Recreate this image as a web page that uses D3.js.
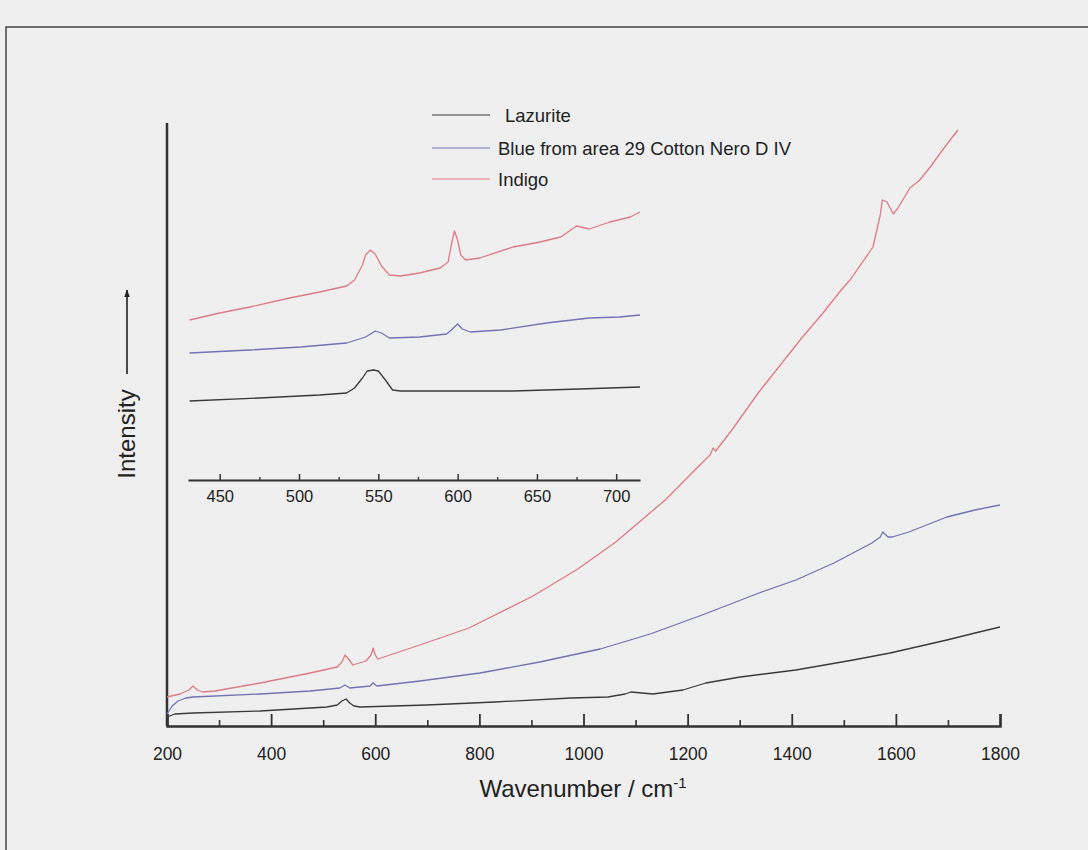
<!DOCTYPE html>
<html>
<head>
<meta charset="utf-8">
<script src="https://cdn.jsdelivr.net/npm/d3@7/dist/d3.min.js"></script>
<style>
  html, body { margin: 0; padding: 0; background: #efefef; }
  svg { display: block; }
  text { font-family: "Liberation Sans", Arial, sans-serif; fill: #222; }
</style>
</head>
<body>
<svg id="chart" width="1088" height="850"></svg>
<script>
// ---------------- DATA ----------------
// Main spectra: [wavenumber (cm-1), intensity (a.u.)]
const seriesNames = ["Lazurite", "Blue from area 29 Cotton Nero D IV", "Indigo"];
const seriesColors = ["#3a3a3a", "#7272b4", "#df7a86"];

const lazuriteMain = [
  [200,9],[215,12],[250,13],[379,15],[507,19],[527,21],[536,25],[544,27],[551,23],
  [559,20],[571,19],[699,21],[830,24],[976,28],[1047,29],[1080,32],[1091,34],
  [1133,32],[1191,36],[1235,43],[1301,49],[1408,56],[1518,66],[1589,73],
  [1698,86],[1752,93],[1800,99]
];
const blueMain = [
  [200,12],[210,20],[221,25],[236,28],[250,29],[379,32],[475,35],[532,38],
  [542,41],[551,38],[571,39],[590,40],[596,43],[603,40],[686,45],[801,53],
  [916,64],[1032,77],[1128,92],[1228,111],[1337,133],[1408,146],[1481,163],
  [1554,183],[1570,189],[1575,194],[1585,189],[1593,189],[1625,194],[1698,209],
  [1752,216],[1800,221]
];
const indigoMain = [
  [200,29],[225,32],[242,36],[250,40],[258,36],[269,34],[292,35],[379,43],
  [475,53],[527,59],[536,64],[542,71],[550,66],[557,61],[582,65],[592,71],
  [596,78],[600,71],[605,67],[680,80],[780,98],[903,130],[989,157],[1062,184],
  [1157,226],[1214,256],[1243,271],[1249,278],[1254,275],[1285,296],
  [1337,334],[1366,353],[1416,386],[1460,413],[1495,436],[1512,446],[1556,479],
  [1570,511],[1574,526],[1583,524],[1595,512],[1604,518],[1627,538],[1646,546],
  [1666,559],[1694,579],[1719,596]
];

// Inset spectra (offset, arbitrary units)
const lazuriteInset = [
  [431,79],[475,82],[513,85],[530,87],[535,92],[540,102],[543,109],[547,110],
  [550,109],[554,101],[559,90],[564,89],[635,89],[677,91],[715,93]
];
const blueInset = [
  [431,127],[469,130],[501,133],[530,137],[542,143],[548,149],[552,147],[557,142],
  [576,143],[593,146],[596,150],[600,156],[603,151],[608,148],[627,150],[656,157],
  [683,162],[702,163],[715,165]
];
const indigoInset = [
  [431,160],[450,167],[469,173],[494,182],[513,188],[530,194],[535,200],[540,215],
  [542,225],[545,230],[548,226],[552,214],[557,205],[564,204],[576,207],[589,212],
  [594,218],[596,235],[598,249],[600,240],[602,225],[605,220],[614,222],[635,233],
  [652,238],[665,243],[675,254],[683,251],[696,258],[709,263],[715,268]
];

const mainMajorTicks = [200, 400, 600, 800, 1000, 1200, 1400, 1600, 1800];
const mainMinorTicks = [300, 500, 700, 900, 1100, 1300, 1500, 1700];
const insetMajorTicks = [450, 500, 550, 600, 650, 700];
const insetMinorTicks = [475, 525, 575, 625, 675];

// ---------------- DRAW ----------------
const svg = d3.select("#chart");

// outer frame (scanned page border)
svg.append("path")
  .attr("d", "M6,850 L6,27 L1088,27")
  .attr("fill", "none").attr("stroke", "#444").attr("stroke-width", 1.5);

// main scales
const x = d3.scaleLinear().domain([200, 1800]).range([167, 1000]);
const y = d3.scaleLinear().domain([0, 600]).range([726, 126]);

// inset scales
const xi = d3.scaleLinear().domain([430, 715]).range([188, 640]);
const yi = d3.scaleLinear().domain([0, 280]).range([480, 200]);

const mainLine = d3.line().x(d => x(d[0])).y(d => y(d[1]));
const insetLine = d3.line().x(d => xi(d[0])).y(d => yi(d[1]));

// main y axis line (no labels)
svg.append("line")
  .attr("x1", x(200)).attr("x2", x(200))
  .attr("y1", 123).attr("y2", y(0))
  .attr("stroke", "#333").attr("stroke-width", 2.5);

// main x axis with D3 axis generators
const gx = svg.append("g").attr("transform", `translate(0,${y(0)})`);
gx.call(d3.axisBottom(x).tickValues(mainMajorTicks).tickSize(-12).tickPadding(22)
        .tickFormat(d3.format("d")))
  .call(g => g.select(".domain").attr("stroke", "#333").attr("stroke-width", 2.5))
  .call(g => g.selectAll(".tick line").attr("stroke", "#333").attr("stroke-width", 1.8))
  .call(g => g.selectAll(".tick text").attr("font-size", "17.5px").attr("fill", "#222")
        .attr("font-family", "Liberation Sans, Arial, sans-serif"));
const gxm = svg.append("g").attr("transform", `translate(0,${y(0)})`);
gxm.call(d3.axisBottom(x).tickValues(mainMinorTicks).tickSize(-6).tickFormat(""))
  .call(g => g.select(".domain").remove())
  .call(g => g.selectAll(".tick line").attr("stroke", "#333").attr("stroke-width", 1.6));

// x axis title with superscript
const title = svg.append("text")
  .attr("x", 583).attr("y", 797)
  .attr("text-anchor", "middle")
  .attr("font-size", "24px");
title.append("tspan").text("Wavenumber / cm");
title.append("tspan").attr("font-size", "15px").attr("dy", "-9").text("-1");

// y axis title and arrow
svg.append("text")
  .attr("transform", "translate(135,434) rotate(-90)")
  .attr("text-anchor", "middle")
  .attr("font-size", "24px")
  .text("Intensity");

svg.append("defs").append("marker")
  .attr("id", "arrowhead")
  .attr("viewBox", "0 0 10 10")
  .attr("refX", 9).attr("refY", 5)
  .attr("markerWidth", 5).attr("markerHeight", 7)
  .attr("markerUnits", "strokeWidth")
  .attr("orient", "auto")
  .append("path").attr("d", "M0,1.5 L10,5 L0,8.5 Z").attr("fill", "#222");
svg.append("line")
  .attr("x1", 127).attr("x2", 127)
  .attr("y1", 374).attr("y2", 290)
  .attr("stroke", "#222").attr("stroke-width", 1.6)
  .attr("marker-end", "url(#arrowhead)");

// main spectra
const mainSeries = [lazuriteMain, blueMain, indigoMain];
svg.append("g").selectAll("path")
  .data(mainSeries)
  .join("path")
  .attr("d", d => mainLine(d))
  .attr("fill", "none")
  .attr("stroke", (d, i) => seriesColors[i])
  .attr("stroke-width", 1.3)
  .attr("stroke-linejoin", "round");

// inset x axis
const gi = svg.append("g").attr("transform", `translate(0,${yi(0)})`);
gi.call(d3.axisBottom(xi).tickValues(insetMajorTicks).tickSize(-6).tickPadding(10)
        .tickFormat(d3.format("d")).tickSizeOuter(0))
  .call(g => g.select(".domain").attr("stroke", "#333").attr("stroke-width", 1.8))
  .call(g => g.selectAll(".tick line").attr("stroke", "#333").attr("stroke-width", 1.5))
  .call(g => g.selectAll(".tick text").attr("font-size", "16.5px").attr("fill", "#222")
        .attr("font-family", "Liberation Sans, Arial, sans-serif"));
const gim = svg.append("g").attr("transform", `translate(0,${yi(0)})`);
gim.call(d3.axisBottom(xi).tickValues(insetMinorTicks).tickSize(-3).tickFormat(""))
  .call(g => g.select(".domain").remove())
  .call(g => g.selectAll(".tick line").attr("stroke", "#333").attr("stroke-width", 1.3));

// inset spectra
const insetSeries = [lazuriteInset, blueInset, indigoInset];
svg.append("g").selectAll("path")
  .data(insetSeries)
  .join("path")
  .attr("d", d => insetLine(d))
  .attr("fill", "none")
  .attr("stroke", (d, i) => seriesColors[i])
  .attr("stroke-width", 1.3)
  .attr("stroke-linejoin", "round");

// legend
const legendY = [115, 148, 179];
const legendTextX = [505, 498, 498];
const leg = svg.append("g");
seriesNames.forEach((name, i) => {
  leg.append("line")
    .attr("x1", 432).attr("x2", 490)
    .attr("y1", legendY[i]).attr("y2", legendY[i])
    .attr("stroke", seriesColors[i]).attr("stroke-width", 1.2);
  leg.append("text")
    .attr("x", legendTextX[i]).attr("y", legendY[i] + 7)
    .attr("font-size", "18.5px")
    .text(name);
});
</script>
</body>
</html>
